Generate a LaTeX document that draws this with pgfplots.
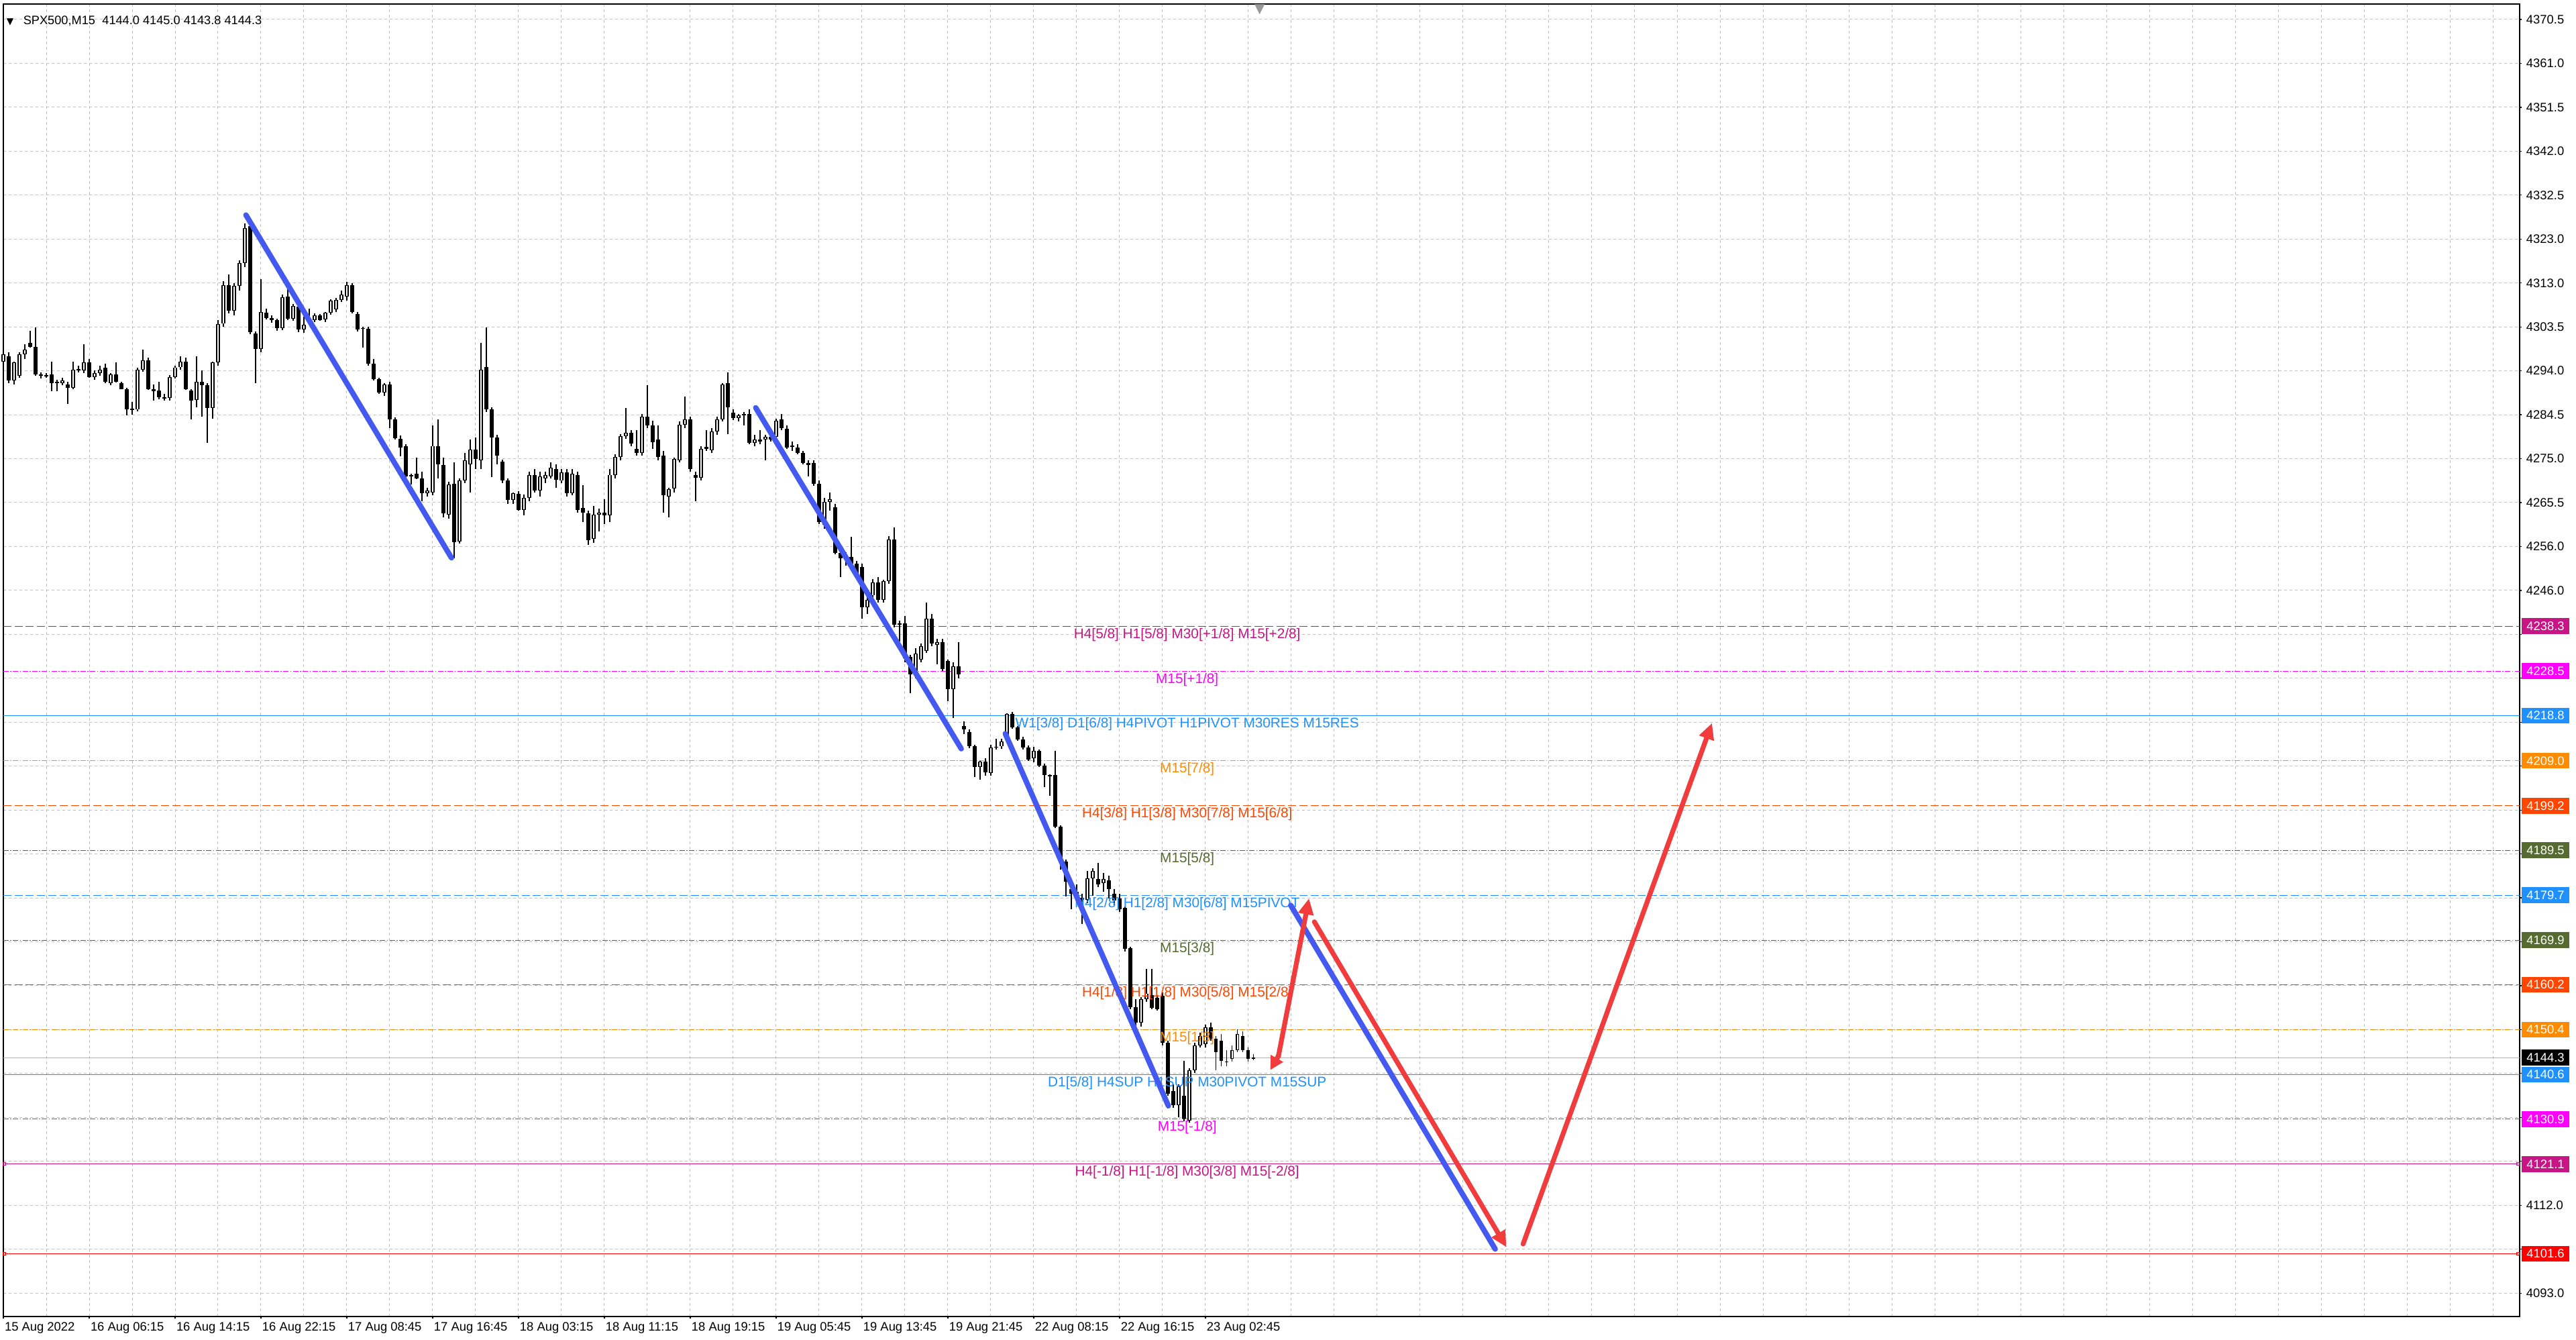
\documentclass[border=0pt]{standalone}
\usepackage{fontspec}
\setmainfont{Liberation Sans}
\newfontfamily\dejavu{DejaVu Sans}
\usepackage{pgfplots}
\usepackage{pgfplotstable}
\pgfplotsset{compat=1.18}
\usetikzlibrary{arrows.meta}

\definecolor{mvr}{HTML}{C71585}
\definecolor{mag}{HTML}{FF00FF}
\definecolor{dodger}{HTML}{1E90FF}
\definecolor{dorange}{HTML}{FF8C00}
\definecolor{ored}{HTML}{FF4500}
\definecolor{olive}{HTML}{556B2F}
\definecolor{lvlred}{HTML}{FF0000}
\definecolor{trendblue}{HTML}{4359F0}
\definecolor{trendred}{HTML}{F03C3C}

\newcommand\tfont{\fontsize{4.6}{5.5}\selectfont}
\newcommand\lfont{\fontsize{5.2}{6}\selectfont}

% 30-min candles, x = bar number
\pgfplotstableread{
x o h l c
0 4296.0 4299.5 4293.9 4297.6
1 4297.1 4298.0 4291.3 4291.8
2 4291.8 4296.0 4291.0 4295.8
3 4292.9 4298.0 4292.5 4297.6
4 4297.6 4299.8 4296.5 4298.5
5 4300.0 4302.6 4299.0 4299.2
6 4299.2 4303.4 4292.9 4293.2
7 4293.2 4293.6 4292.3 4292.9
8 4292.9 4293.5 4292.4 4293.0
9 4293.2 4296.0 4289.5 4291.3
10 4291.3 4292.0 4289.5 4291.6
11 4291.3 4292.5 4290.8 4291.8
12 4291.0 4291.5 4286.8 4290.3
13 4290.3 4296.0 4289.9 4294.2
14 4294.2 4295.0 4293.6 4294.3
15 4294.0 4299.8 4293.5 4295.8
16 4295.8 4296.5 4292.4 4292.6
17 4292.6 4294.0 4292.0 4293.5
18 4293.4 4295.0 4292.8 4294.2
19 4294.7 4295.5 4291.3 4291.6
20 4291.3 4293.5 4290.8 4293.2
21 4293.2 4295.8 4291.4 4291.6
22 4291.3 4291.6 4289.9 4290.0
23 4290.0 4290.3 4284.2 4285.5
24 4285.5 4287.2 4284.4 4285.7
25 4285.5 4294.6 4285.2 4294.2
26 4294.2 4298.6 4293.8 4296.3
27 4296.3 4296.8 4289.8 4290.0
28 4290.0 4291.0 4287.4 4289.5
29 4289.7 4291.5 4287.8 4288.2
30 4288.2 4289.0 4287.5 4287.9
31 4288.0 4293.0 4287.5 4292.6
32 4292.6 4295.0 4292.3 4294.7
33 4294.7 4297.1 4294.2 4296.0
34 4296.0 4296.8 4289.8 4290.0
35 4289.7 4290.0 4283.4 4287.4
36 4287.6 4297.1 4286.0 4291.6
37 4291.6 4294.0 4284.0 4290.8
38 4290.8 4291.2 4278.2 4285.8
39 4285.8 4296.0 4283.5 4295.8
40 4295.8 4305.0 4295.0 4304.2
41 4304.2 4313.5 4303.5 4312.6
42 4312.6 4315.0 4306.5 4307.1
43 4307.1 4313.0 4306.0 4312.4
44 4312.4 4318.0 4311.5 4317.4
45 4317.4 4326.0 4316.5 4325.0
46 4325.5 4327.2 4302.0 4302.4
47 4302.1 4302.5 4291.3 4298.7
48 4298.7 4313.9 4298.0 4306.8
49 4306.6 4307.5 4305.2 4305.5
50 4305.5 4306.0 4304.5 4305.0
51 4305.0 4305.3 4302.6 4303.3
52 4303.3 4310.5 4302.8 4310.0
53 4310.2 4311.8 4305.0 4305.3
54 4305.3 4308.5 4304.8 4308.1
55 4307.9 4308.4 4302.4 4302.9
56 4302.9 4305.8 4302.2 4304.0
57 4304.5 4307.5 4304.0 4305.0
58 4305.0 4306.5 4304.5 4306.0
59 4306.0 4306.4 4304.8 4305.0
60 4305.2 4306.8 4304.5 4306.6
61 4306.6 4309.5 4306.2 4309.2
62 4307.3 4309.8 4306.8 4309.4
63 4309.4 4311.5 4309.0 4310.5
64 4310.2 4313.4 4309.3 4312.6
65 4312.6 4313.0 4306.5 4306.7
66 4306.3 4306.8 4302.5 4302.9
67 4303.1 4303.6 4299.0 4303.3
68 4303.1 4303.6 4295.0 4295.5
69 4295.5 4296.5 4291.8 4292.1
70 4292.1 4292.5 4289.0 4289.2
71 4289.2 4291.2 4288.5 4291.0
72 4291.0 4291.5 4281.5 4283.4
73 4283.4 4283.8 4279.0 4279.2
74 4279.2 4279.8 4275.3 4277.3
75 4277.6 4278.0 4270.5 4271.0
76 4271.0 4271.5 4269.2 4271.3
77 4271.6 4275.0 4270.3 4270.5
78 4270.5 4272.0 4265.5 4267.3
79 4267.3 4268.5 4266.5 4267.9
80 4267.5 4282.0 4266.8 4277.6
81 4277.6 4283.4 4270.5 4273.6
82 4273.4 4275.0 4262.0 4262.9
83 4262.6 4269.8 4261.8 4269.2
84 4269.4 4274.0 4253.1 4256.6
85 4256.8 4270.5 4256.3 4270.0
86 4270.0 4276.0 4269.5 4274.5
87 4273.6 4279.0 4267.5 4276.8
88 4276.8 4279.4 4272.5 4274.7
89 4274.4 4300.0 4272.5 4294.2
90 4294.7 4303.4 4285.0 4285.5
91 4285.5 4286.0 4270.8 4279.4
92 4279.4 4280.0 4273.5 4275.5
93 4274.2 4274.6 4269.5 4270.0
94 4270.0 4270.5 4265.0 4265.8
95 4265.8 4267.5 4265.0 4267.3
96 4267.1 4267.8 4263.5 4263.7
97 4263.7 4267.0 4262.4 4266.3
98 4266.3 4272.0 4265.5 4271.2
99 4271.2 4272.5 4267.5 4267.9
100 4267.9 4272.0 4266.5 4271.0
101 4270.5 4272.0 4269.5 4271.3
102 4271.0 4274.0 4270.5 4272.9
103 4272.6 4273.5 4268.5 4270.2
104 4270.0 4272.5 4269.5 4271.8
105 4271.8 4272.5 4266.5 4267.3
106 4267.3 4272.5 4266.8 4271.6
107 4271.3 4272.0 4263.0 4263.7
108 4264.0 4269.0 4261.0 4263.1
109 4262.9 4263.5 4256.0 4257.1
110 4257.4 4264.5 4256.5 4262.6
111 4262.6 4264.0 4259.0 4263.1
112 4263.1 4266.0 4260.5 4262.4
113 4262.4 4272.5 4261.0 4271.3
114 4271.3 4275.8 4270.5 4275.2
115 4275.2 4280.2 4274.5 4279.7
116 4279.7 4285.8 4279.2 4280.5
117 4280.5 4281.0 4277.5 4278.1
118 4277.0 4281.0 4275.5 4276.0
119 4276.0 4284.5 4275.5 4283.9
120 4283.9 4290.8 4281.5 4282.1
121 4282.1 4283.0 4277.0 4278.4
122 4279.0 4282.0 4274.5 4275.2
123 4275.5 4276.5 4263.0 4266.8
124 4266.6 4268.5 4262.0 4268.1
125 4268.3 4275.0 4267.5 4274.7
126 4274.4 4283.0 4274.0 4282.2
127 4282.2 4288.4 4281.5 4283.4
128 4283.4 4284.0 4272.0 4272.6
129 4271.2 4272.0 4265.5 4270.6
130 4270.6 4277.5 4270.0 4277.0
131 4277.0 4281.0 4276.5 4277.3
132 4276.7 4281.5 4276.0 4280.8
133 4280.8 4284.0 4280.0 4283.4
134 4283.4 4291.3 4283.0 4291.0
135 4291.2 4293.6 4280.2 4286.0
136 4284.9 4285.5 4283.2 4283.7
137 4283.7 4284.5 4283.0 4284.2
138 4284.4 4285.0 4282.0 4284.5
139 4284.5 4285.5 4278.0 4278.2
140 4278.2 4280.0 4277.5 4279.0
141 4279.0 4281.0 4278.0 4278.5
142 4279.0 4280.0 4274.5 4279.6
143 4279.6 4280.0 4278.5 4279.0
144 4279.6 4283.5 4279.0 4283.1
145 4283.4 4284.5 4281.0 4281.4
146 4281.4 4282.0 4277.0 4277.3
147 4277.6 4278.5 4276.5 4277.5
148 4277.3 4278.0 4275.8 4276.1
149 4276.1 4276.5 4273.5 4273.8
150 4273.8 4274.5 4271.0 4273.5
151 4273.8 4274.5 4268.9 4269.4
152 4269.4 4270.0 4260.5 4261.0
153 4260.4 4266.2 4259.5 4265.4
154 4265.4 4267.5 4263.5 4266.0
155 4264.2 4265.0 4254.0 4254.3
156 4254.3 4255.0 4249.0 4253.1
157 4253.1 4254.5 4251.5 4253.0
158 4253.4 4257.8 4251.5 4252.0
159 4252.0 4252.5 4249.0 4249.7
160 4251.2 4252.0 4240.0 4242.4
161 4242.4 4245.0 4241.0 4244.1
162 4245.0 4248.5 4244.0 4247.9
163 4247.9 4249.0 4243.5 4244.1
164 4244.1 4248.5 4243.5 4248.2
165 4248.2 4258.0 4247.5 4257.2
166 4257.2 4259.8 4238.0 4238.6
167 4238.6 4239.5 4235.0 4238.9
168 4239.0 4240.5 4230.5 4231.3
169 4231.6 4232.0 4223.7 4227.8
170 4227.8 4233.5 4227.0 4232.4
171 4231.0 4234.5 4230.5 4233.9
172 4233.0 4243.5 4232.5 4240.0
173 4240.0 4241.0 4234.0 4234.5
174 4234.2 4235.5 4230.0 4234.8
175 4234.8 4235.5 4228.5 4229.0
176 4230.7 4231.0 4222.0 4224.6
177 4224.6 4230.5 4218.3 4229.6
178 4229.6 4234.8 4227.0 4227.8
179 4216.5 4217.6 4214.8 4215.8
180 4215.3 4215.8 4211.8 4212.1
181 4212.1 4212.4 4205.4 4207.7
182 4207.7 4209.0 4204.8 4208.8
183 4208.8 4209.5 4205.8 4206.5
184 4206.4 4212.5 4205.8 4211.9
185 4211.9 4213.8 4211.5 4212.1
186 4212.1 4213.8 4211.6 4213.2
187 4213.5 4219.4 4213.0 4219.2
188 4219.2 4219.6 4216.0 4216.3
189 4216.3 4216.6 4213.4 4213.7
190 4213.7 4214.2 4211.5 4211.9
191 4211.9 4212.3 4209.0 4209.3
192 4209.5 4212.0 4208.6 4211.1
193 4211.1 4211.5 4207.6 4208.0
194 4208.0 4208.3 4203.2 4205.9
195 4205.6 4206.0 4201.4 4205.9
196 4205.9 4211.1 4194.3 4194.6
197 4194.6 4195.0 4185.3 4187.1
198 4187.1 4187.5 4179.5 4182.7
199 4181.0 4182.7 4176.6 4180.0
200 4180.5 4182.0 4178.0 4179.0
201 4179.2 4180.0 4173.5 4178.7
202 4178.7 4185.0 4178.0 4183.4
203 4183.4 4185.5 4179.5 4185.0
204 4183.2 4186.8 4181.5 4182.1
205 4182.3 4184.5 4180.5 4183.2
206 4183.0 4184.0 4179.0 4181.0
207 4180.0 4181.0 4177.5 4178.5
208 4179.0 4180.0 4176.0 4176.6
209 4176.9 4177.2 4167.5 4168.1
210 4168.1 4168.5 4154.9 4155.3
211 4155.3 4157.0 4149.5 4152.0
212 4152.0 4157.5 4151.0 4157.0
213 4157.0 4163.7 4156.5 4158.3
214 4158.0 4163.7 4154.8 4155.1
215 4157.3 4158.0 4154.5 4154.9
216 4157.8 4158.5 4147.0 4147.5
217 4147.5 4148.0 4136.0 4136.5
218 4137.0 4138.5 4133.3 4134.0
219 4134.0 4138.5 4131.3 4138.0
220 4136.0 4143.6 4130.4 4131.0
221 4130.6 4142.0 4130.2 4141.5
222 4141.5 4147.5 4141.0 4147.0
223 4147.0 4149.8 4146.5 4149.0
224 4147.3 4151.5 4146.5 4150.9
225 4150.9 4152.0 4148.0 4148.5
226 4148.5 4149.0 4141.5 4145.5
227 4148.0 4149.5 4142.5 4143.6
228 4143.5 4146.0 4142.5 4143.3
229 4144.1 4147.0 4143.5 4146.0
230 4146.0 4150.5 4145.5 4149.5
231 4149.0 4150.0 4145.5 4146.0
232 4146.0 4146.5 4143.5 4144.0
233 4144.0 4145.0 4143.8 4144.3
}\candles

\begin{document}
\begin{tikzpicture}
\useasboundingbox (0,0) rectangle (960pt,499pt);
\begin{axis}[
  at={(1.175pt,8.5pt)}, anchor=south west,
  scale only axis, width=937.8pt, height=489pt,
  xmin=-0.04, xmax=468.9, ymin=4087.9, ymax=4373.86,
  clip=false,
  axis line style={black, line width=0.4pt},
  tick style={black, line width=0.3pt},
  tick align=outside, major tick length=0.8pt, minor tick length=0pt,
  xtick pos=bottom, ytick pos=right, yticklabel pos=right,
  xtick={0,16,...,224},
  xticklabels={15 Aug 2022, 16 Aug 06:15, 16 Aug 14:15, 16 Aug 22:15, 17 Aug 08:45, 17 Aug 16:45, 18 Aug 03:15, 18 Aug 11:15, 18 Aug 19:15, 19 Aug 05:45, 19 Aug 13:45, 19 Aug 21:45, 22 Aug 08:15, 22 Aug 16:15, 23 Aug 02:45},
  minor xtick={8,24,...,216,232,240,...,464},
  ytick={4093.00,4102.57,4112.14,4121.71,4131.28,4140.85,4150.41,4159.98,4169.55,4179.12,4188.69,4198.26,4207.83,4217.40,4226.97,4236.54,4246.10,4255.67,4265.24,4274.81,4284.38,4293.95,4303.52,4313.09,4322.66,4332.23,4341.79,4351.36,4360.93,4370.50},
  % labels hidden behind the coloured price boxes are left empty
  yticklabels={4093.0,,4112.0,,,,,,,,,,,,,,4246.0,4256.0,4265.5,4275.0,4284.5,4294.0,4303.5,4313.0,4323.0,4332.5,4342.0,4351.5,4361.0,4370.5},
  tick label style={font=\tfont},
  xticklabel style={anchor=north west, inner sep=0pt, xshift=0.3pt, yshift=-1.2pt},
  yticklabel style={anchor=west, inner sep=0pt, xshift=1.5pt},
  grid=both,
  major grid style={draw=black!25, line width=0.25pt, dash pattern=on 1pt off 1pt},
  minor grid style={draw=black!25, line width=0.25pt, dash pattern=on 1pt off 1pt},
]

% level lines
\addplot[mvr, line width=0.25pt, dash pattern=on 3pt off 1.2pt] coordinates {(-0.04,4238.3) (468.9,4238.3)};
\addplot[mag, line width=0.25pt, dash pattern=on 2pt off 0.6pt on 0.4pt off 0.6pt] coordinates {(-0.04,4228.5) (468.9,4228.5)};
\addplot[dodger, line width=0.25pt] coordinates {(-0.04,4218.8) (468.9,4218.8)};
\addplot[dorange, line width=0.25pt, dash pattern=on 2pt off 0.6pt on 0.4pt off 0.6pt] coordinates {(-0.04,4209.0) (468.9,4209.0)};
\addplot[ored, line width=0.25pt, dash pattern=on 3pt off 1.2pt] coordinates {(-0.04,4199.2) (468.9,4199.2)};
\addplot[olive, line width=0.25pt, dash pattern=on 2pt off 0.6pt on 0.4pt off 0.6pt] coordinates {(-0.04,4189.5) (468.9,4189.5)};
\addplot[dodger, line width=0.25pt, dash pattern=on 3pt off 1.2pt] coordinates {(-0.04,4179.7) (468.9,4179.7)};
\addplot[olive, line width=0.25pt, dash pattern=on 2pt off 0.6pt on 0.4pt off 0.6pt] coordinates {(-0.04,4169.9) (468.9,4169.9)};
\addplot[ored, line width=0.25pt, dash pattern=on 3pt off 1.2pt] coordinates {(-0.04,4160.2) (468.9,4160.2)};
\addplot[dorange, line width=0.25pt, dash pattern=on 2pt off 0.6pt on 0.4pt off 0.6pt] coordinates {(-0.04,4150.4) (468.9,4150.4)};
\addplot[black!30, line width=0.25pt] coordinates {(-0.04,4144.3) (468.9,4144.3)};
\addplot[dodger, line width=0.25pt] coordinates {(-0.04,4140.6) (468.9,4140.6)};
\addplot[mag, line width=0.25pt, dash pattern=on 2pt off 0.6pt on 0.4pt off 0.6pt] coordinates {(-0.04,4130.9) (468.9,4130.9)};
\addplot[mvr, line width=0.25pt, mark=square, mark size=0.5pt, mark options={solid, fill=white}] coordinates {(0.2,4121.1) (468.6,4121.1)};
\addplot[lvlred, line width=0.25pt, mark=square, mark size=0.5pt, mark options={solid, fill=white}] coordinates {(0.2,4101.6) (468.6,4101.6)};

% candles: wicks, bodies, hollow up bodies (error bars only, plot line hidden)
\addplot[draw=none, mark=none, error bars/.cd, y dir=both, y explicit, error mark=none,
  error bar style={draw=black, solid, line width=0.3pt}]
  table[x=x, y expr={(\thisrow{h}+\thisrow{l})/2}, y error expr={(\thisrow{h}-\thisrow{l})/2}] {\candles};
\addplot[draw=none, mark=none, error bars/.cd, y dir=both, y explicit, error mark=none,
  error bar style={draw=black, solid, line width=1.3pt}]
  table[x=x, y expr={(\thisrow{o}+\thisrow{c})/2}, y error expr={max(abs(\thisrow{c}-\thisrow{o})/2,0.08)}] {\candles};
\addplot[draw=none, mark=none, restrict expr to domain={\thisrow{c}-\thisrow{o}}{0.35:1000},
  error bars/.cd, y dir=both, y explicit, error mark=none,
  error bar style={draw=white, solid, line width=0.55pt}]
  table[x=x, y expr={(\thisrow{o}+\thisrow{c})/2}, y error expr={(\thisrow{c}-\thisrow{o})/2-0.14}] {\candles};

% level texts
\begin{scope}[every node/.style={anchor=base, inner sep=0pt, yshift=-4.5pt, font=\lfont}]
\node[text=mvr] at (axis cs:220.6,4238.3) {H4[5/8] H1[5/8] M30[+1/8] M15[+2/8]};
\node[text=mag] at (axis cs:220.6,4228.5) {M15[+1/8]};
\node[text=dodger] at (axis cs:220.6,4218.8) {W1[3/8] D1[6/8] H4PIVOT H1PIVOT M30RES M15RES};
\node[text=dorange] at (axis cs:220.6,4209.0) {M15[7/8]};
\node[text=ored] at (axis cs:220.6,4199.2) {H4[3/8] H1[3/8] M30[7/8] M15[6/8]};
\node[text=olive] at (axis cs:220.6,4189.5) {M15[5/8]};
\node[text=dodger] at (axis cs:220.6,4179.7) {H4[2/8] H1[2/8] M30[6/8] M15PIVOT};
\node[text=olive] at (axis cs:220.6,4169.9) {M15[3/8]};
\node[text=ored] at (axis cs:220.6,4160.2) {H4[1/8] H1[1/8] M30[5/8] M15[2/8]};
\node[text=dorange] at (axis cs:220.6,4150.4) {M15[1/8]};
\node[text=dodger] at (axis cs:220.6,4140.6) {D1[5/8] H4SUP H1SUP M30PIVOT M15SUP};
\node[text=mag] at (axis cs:220.6,4130.9) {M15[-1/8]};
\node[text=mvr] at (axis cs:220.6,4121.1) {H4[-1/8] H1[-1/8] M30[3/8] M15[-2/8]};
\end{scope}

% drawn trend lines and arrows
\addplot[trendblue, line width=2pt, line cap=round] coordinates {(45.2,4327.9) (83.5,4253.2)};
\addplot[trendblue, line width=2pt, line cap=round] coordinates {(140.2,4285.9) (178.5,4211.6)};
\addplot[trendblue, line width=2pt, line cap=round] coordinates {(186.7,4214.9) (217.1,4133.8)};
\addplot[trendblue, line width=2pt, line cap=round] coordinates {(239.9,4177.5) (278.0,4102.6)};
\addplot[trendred, line width=1.8pt, -{Triangle[length=5pt,width=5pt]}] coordinates {(237.7,4144.9) (236.1,4141.6)};
\addplot[trendred, line width=1.8pt, line cap=round, -{Triangle[length=6pt,width=5.5pt]}] coordinates {(237.6,4144.6) (243.3,4179.0)};
\addplot[trendred, line width=1.8pt, line cap=round, -{Triangle[length=6pt,width=5.5pt]}] coordinates {(244.3,4173.9) (280.1,4103.0)};
\addplot[trendred, line width=1.8pt, line cap=round, -{Triangle[length=6pt,width=5.5pt]}] coordinates {(283.2,4103.7) (318.4,4217.2)};

% price boxes on the right scale
\begin{scope}[every node/.style={anchor=west, inner sep=0pt, xshift=0.5pt, minimum width=17.9pt, minimum height=5.9pt, text=white, font=\tfont}]
\node[fill=mvr] at (axis cs:468.9,4238.3) {4238.3};
\node[fill=mag] at (axis cs:468.9,4228.5) {4228.5};
\node[fill=dodger] at (axis cs:468.9,4218.8) {4218.8};
\node[fill=dorange] at (axis cs:468.9,4209.0) {4209.0};
\node[fill=ored] at (axis cs:468.9,4199.2) {4199.2};
\node[fill=olive] at (axis cs:468.9,4189.5) {4189.5};
\node[fill=dodger] at (axis cs:468.9,4179.7) {4179.7};
\node[fill=olive] at (axis cs:468.9,4169.9) {4169.9};
\node[fill=ored] at (axis cs:468.9,4160.2) {4160.2};
\node[fill=dorange] at (axis cs:468.9,4150.4) {4150.4};
\node[fill=black] at (axis cs:468.9,4144.3) {4144.3};
\node[fill=dodger] at (axis cs:468.9,4140.6) {4140.6};
\node[fill=mag] at (axis cs:468.9,4130.9) {4130.9};
\node[fill=mvr] at (axis cs:468.9,4121.1) {4121.1};
\node[fill=lvlred] at (axis cs:468.9,4101.6) {4101.6};
\end{scope}

% header and shift marker
\node[anchor=base west, inner sep=0pt, xshift=1.1pt, yshift=-7.75pt, font=\fontsize{4.55}{5.5}\selectfont]
  at (rel axis cs:0,1) {{\dejavu\fontsize{3.4}{4}\selectfont ▼}\hspace{3.6pt}SPX500,M15\hspace{2.6pt}4144.0 4145.0 4143.8 4144.3};
\node[anchor=north, inner sep=0pt, text=black!40, font=\dejavu\fontsize{5}{5}\selectfont] at (axis cs:234.1,4373.86) {▼};
\end{axis}
\end{tikzpicture}
\end{document}
